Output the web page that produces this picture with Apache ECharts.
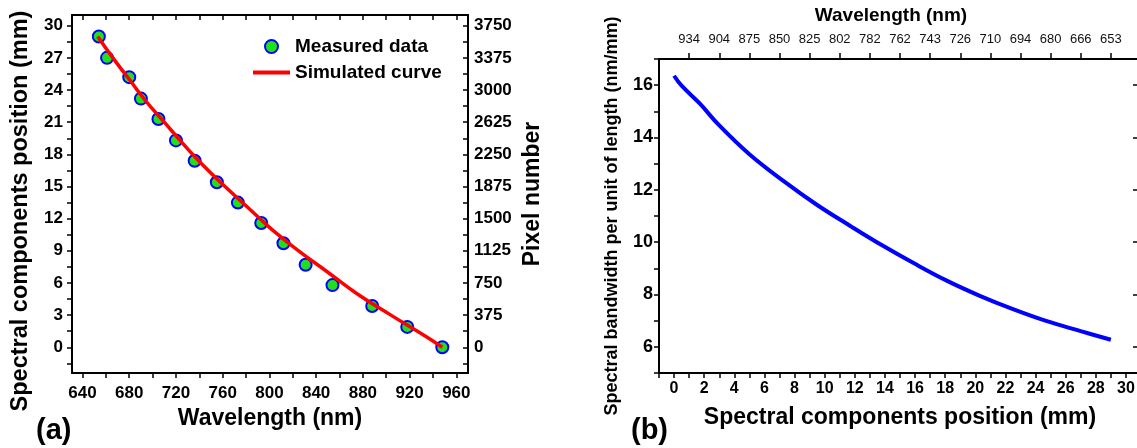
<!DOCTYPE html>
<html>
<head>
<meta charset="utf-8">
<script src="https://cdn.jsdelivr.net/npm/echarts@6/dist/echarts.min.js"></script>
<style>
  html, body { margin: 0; padding: 0; background: #fff; }
  #chart { width: 1137px; height: 448px; }
</style>
</head>
<body>
<div id="chart"></div>
<script>
// (a) measured points: wavelength (nm) vs position (mm)
const measWl = [654, 661, 680, 690, 705, 720, 736, 755, 773, 793, 812, 831, 854, 888, 918, 948];
const measMm = [29.0, 27.0, 25.2, 23.2, 21.3, 19.3, 17.4, 15.4, 13.5, 11.6, 9.7, 7.7, 5.8, 3.85, 1.9, 0];

// (a) simulated curve, read from the (b) top axis pairs
const simMm = [0, 1, 3, 5, 7, 9, 11, 13, 15, 17, 19, 21, 23, 25, 27, 29];
const simWl = [948, 934, 904, 875, 850, 825, 802, 782, 762, 743, 726, 710, 694, 680, 666, 653];

// (b) bandwidth per unit length
const bwPos = [0, 0.5, 1.7, 3, 5, 7.3, 9.5, 11.7, 13.9, 15.9, 18.1, 20.3, 22.5, 24.7, 27, 29];
const bwVal = [16.36, 15.98, 15.3, 14.46, 13.36, 12.32, 11.42, 10.62, 9.85, 9.20, 8.53, 7.95, 7.44, 6.99, 6.60, 6.27];

// tick labels
const wlTicks = [640, 680, 720, 760, 800, 840, 880, 920, 960];
const mmTicks = [0, 3, 6, 9, 12, 15, 18, 21, 24, 27, 30];
const pixTicks = [0, 375, 750, 1125, 1500, 1875, 2250, 2625, 3000, 3375, 3750];
const posTicks = [0, 2, 4, 6, 8, 10, 12, 14, 16, 18, 20, 22, 24, 26, 28, 30];
const bwTicks = [6, 8, 10, 12, 14, 16];
const topPos = [1, 3, 5, 7, 9, 11, 13, 15, 17, 19, 21, 23, 25, 27, 29];
const topLabels = ['934', '904', '875', '850', '825', '802', '782', '762', '743', '726', '710', '694', '680', '666', '653'];

const FONT = "'Liberation Sans', Arial, sans-serif";

function zip(a, b) {
  return a.map((v, i) => [v, b[i]]);
}
function steps(from, to, step) {
  let out = [];
  for (let v = from; v <= to + 1e-9; v += step) out.push(+v.toFixed(3));
  return out;
}
const plain = v => String(v);

const lineStyle = { color: '#000', width: 2 };
const tickStyle = { color: '#000', width: 1.5 };
const boldLabel = { color: '#000', fontFamily: FONT, fontWeight: 'bold', fontSize: 17 };
const boldName = { color: '#000', fontFamily: FONT, fontWeight: 'bold', fontSize: 23 };

const chart = echarts.init(document.getElementById('chart'), null, { renderer: 'canvas' });

let option = {
  animation: false,
  backgroundColor: '#fff',
  title: [
    { text: '(a)', left: 31, top: 411, textStyle: { fontFamily: FONT, fontWeight: 'bold', fontSize: 29, color: '#000' } },
    { text: '(b)', left: 626, top: 411, textStyle: { fontFamily: FONT, fontWeight: 'bold', fontSize: 29, color: '#000' } }
  ],
  legend: {
    data: [
      { name: 'Measured data', icon: 'circle' },
      { name: 'Simulated curve', icon: 'path://M0,0H37V4H0Z' }
    ],
    orient: 'vertical',
    left: 253,
    top: 37,
    padding: 0,
    itemWidth: 37,
    itemHeight: 13,
    itemGap: 7,
    textStyle: { fontFamily: FONT, fontWeight: 'bold', fontSize: 19, color: '#000' }
  },
  grid: [
    { left: 72, top: 15, width: 396, height: 358, outerBoundsMode: 'none' },
    { left: 659, top: 59, width: 482, height: 314, outerBoundsMode: 'none' }
  ],
  xAxis: [
    {
      gridIndex: 0, type: 'value', position: 'bottom', min: 631, max: 970,
      name: 'Wavelength (nm)', nameLocation: 'middle', nameGap: 33, nameTextStyle: boldName,
      axisLine: { show: true, onZero: false, lineStyle: lineStyle },
      axisTick: { show: true, length: 5, lineStyle: tickStyle, customValues: steps(640, 960, 20) },
      axisLabel: { margin: 12, customValues: wlTicks, formatter: plain, ...boldLabel },
      splitLine: { show: false }
    },
    {
      gridIndex: 0, type: 'value', position: 'top', min: 631, max: 970,
      axisLine: { show: true, onZero: false, lineStyle: lineStyle },
      axisTick: { show: true, inside: true, length: 5, lineStyle: tickStyle, customValues: steps(640, 960, 20) },
      axisLabel: { show: false },
      splitLine: { show: false }
    },
    {
      gridIndex: 1, type: 'value', position: 'bottom', min: -1, max: 31,
      name: 'Spectral components position (mm)', nameLocation: 'middle', nameGap: 33, nameTextStyle: boldName,
      axisLine: { show: true, onZero: false, lineStyle: lineStyle },
      axisTick: { show: true, length: 5, lineStyle: tickStyle, customValues: steps(-1, 31, 1) },
      axisLabel: { margin: 8, customValues: posTicks, formatter: plain, ...boldLabel, fontSize: 16 },
      splitLine: { show: false }
    },
    {
      gridIndex: 1, type: 'value', position: 'top', min: -1, max: 31,
      name: 'Wavelength (nm)', nameLocation: 'middle', nameGap: 34,
      nameTextStyle: { ...boldName, fontSize: 19, padding: [0, 18, 0, 0] },
      axisLine: { show: true, onZero: false, lineStyle: lineStyle },
      axisTick: { show: true, length: 6, lineStyle: tickStyle, customValues: topPos },
      axisLabel: {
        margin: 13, customValues: topPos, color: '#111', fontFamily: FONT, fontSize: 13,
        formatter: v => topLabels[topPos.indexOf(v)] || ''
      },
      splitLine: { show: false }
    }
  ],
  yAxis: [
    {
      gridIndex: 0, type: 'value', position: 'left', min: -2.4, max: 31,
      name: 'Spectral components position (mm)', nameLocation: 'middle', nameGap: 39,
      nameTextStyle: { ...boldName, fontSize: 23.5, padding: [0, 34, 0, 0] },
      axisLine: { show: true, onZero: false, lineStyle: lineStyle },
      axisTick: { show: true, length: 5, lineStyle: tickStyle, customValues: steps(-1.5, 30, 1.5) },
      axisLabel: { margin: 9, customValues: mmTicks, formatter: plain, ...boldLabel },
      splitLine: { show: false }
    },
    {
      gridIndex: 0, type: 'value', position: 'right', min: -300, max: 3875,
      name: 'Pixel number', nameLocation: 'middle', nameGap: 53, nameRotate: 90, nameTextStyle: boldName,
      axisLine: { show: true, onZero: false, lineStyle: lineStyle },
      axisTick: { show: true, inside: true, length: 5, lineStyle: tickStyle, customValues: steps(-187.5, 3750, 187.5) },
      axisLabel: { margin: 6, customValues: pixTicks, formatter: plain, ...boldLabel },
      splitLine: { show: false }
    },
    {
      gridIndex: 1, type: 'value', position: 'left', min: 5, max: 17,
      name: 'Spectral bandwidth per unit of length (nm/mm)', nameLocation: 'middle', nameGap: 38,
      nameTextStyle: { ...boldName, fontSize: 18 },
      axisLine: { show: true, onZero: false, lineStyle: lineStyle },
      axisTick: { show: true, length: 5, lineStyle: tickStyle, customValues: steps(5, 17, 1) },
      axisLabel: { margin: 6, customValues: bwTicks, formatter: plain, ...boldLabel, fontSize: 18 },
      splitLine: { show: false }
    },
    {
      gridIndex: 1, type: 'value', position: 'right', min: 5, max: 17,
      axisLine: { show: true, onZero: false, lineStyle: lineStyle },
      axisTick: { show: true, inside: true, length: 8, lineStyle: tickStyle, customValues: bwTicks },
      axisLabel: { show: false },
      splitLine: { show: false }
    }
  ],
  series: [
    {
      name: 'Measured data',
      type: 'scatter',
      xAxisIndex: 0, yAxisIndex: 0,
      symbol: 'circle',
      symbolSize: 12,
      itemStyle: { color: '#1fe01f', borderColor: '#0000ff', borderWidth: 2, opacity: 1 },
      data: zip(measWl, measMm),
      z: 2
    },
    {
      name: 'Simulated curve',
      type: 'line',
      xAxisIndex: 0, yAxisIndex: 0,
      smooth: true,
      symbol: 'none',
      lineStyle: { color: '#ff0000', width: 3.5 },
      itemStyle: { color: '#ff0000' },
      data: zip(simWl, simMm),
      z: 3
    },
    {
      name: 'bandwidth',
      type: 'line',
      xAxisIndex: 2, yAxisIndex: 2,
      smooth: 0.4,
      symbol: 'none',
      lineStyle: { color: '#0000ff', width: 4 },
      itemStyle: { color: '#0000ff' },
      data: zip(bwPos, bwVal)
    }
  ]
};

chart.setOption(option);
</script>
</body>
</html>
